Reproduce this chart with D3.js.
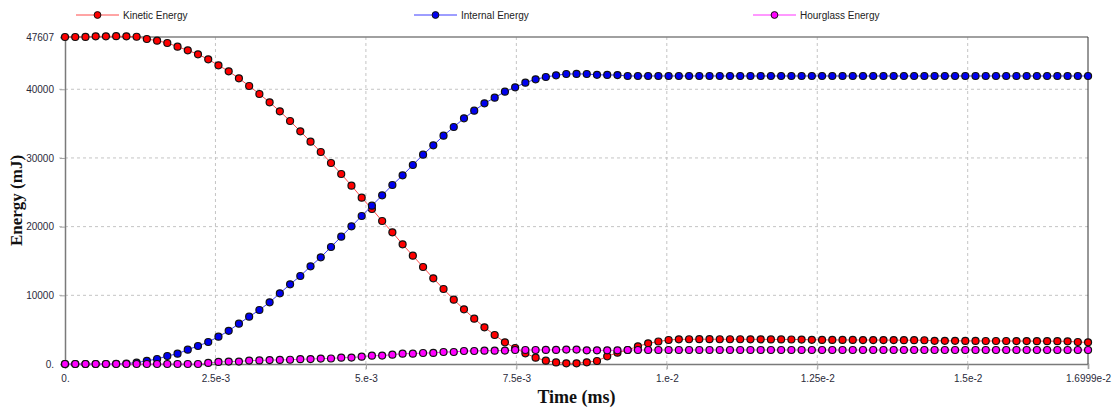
<!DOCTYPE html>
<html>
<head>
<meta charset="utf-8">
<script src="https://cdn.jsdelivr.net/npm/d3@7"></script>
<style>
  body { margin: 0; background: #fff; }
  svg { display: block; }
</style>
</head>
<body>
<svg id="chart"></svg>
<script>
// output every 1.7e-4 ms, 101 samples (0 .. 1.6999e-2)
var time = d3.range(101).map(function(i) { return i * 0.00017; });

var kinetic = [
  47607, 47607, 47620, 47700, 47710, 47720, 47700, 47640, 47316, 47073,
  46735, 46200, 45670, 45085, 44360, 43485, 42610, 41590, 40475, 39310,
  38095, 36790, 35378, 33875, 32370, 30865, 29264, 27662, 25963, 24216,
  22566, 20819, 19168, 17421, 15771, 14122, 12473, 10919, 9367, 7959,
  6599, 5338, 4222, 3155, 2329, 1553, 922, 485, 230, 100,
  100, 250, 440, 1120, 1650, 2040, 2570, 3010, 3275, 3495,
  3590, 3600, 3610, 3610, 3600, 3600, 3600, 3590, 3590, 3580,
  3580, 3570, 3560, 3520, 3510, 3500, 3500, 3500, 3490, 3490,
  3480, 3480, 3470, 3470, 3460, 3380, 3370, 3370, 3360, 3360,
  3350, 3350, 3350, 3340, 3340, 3330, 3330, 3320, 3300, 3200,
  3150
];

var internal = [
  0, 0, 0, 0, 0, 20, 60, 200, 460, 728,
  1165, 1500, 2090, 2620, 3203, 3980, 4830, 5872, 6891, 7862,
  8979, 10290, 11600, 12812, 14219, 15529, 17034, 18537, 20043, 21547,
  23052, 24556, 26061, 27468, 28972, 30477, 31836, 33244, 34505, 35767,
  36883, 37951, 38775, 39649, 40279, 40958, 41443, 41784, 42027, 42220,
  42230, 42220, 42100, 42080, 42070, 41930, 41930, 41930, 41930, 41930,
  41930, 41930, 41930, 41930, 41930, 41930, 41930, 41930, 41930, 41930,
  41930, 41930, 41930, 41930, 41930, 41930, 41930, 41930, 41930, 41930,
  41930, 41930, 41930, 41930, 41930, 41930, 41930, 41930, 41930, 41930,
  41930, 41930, 41930, 41930, 41930, 41930, 41930, 41930, 41930, 41930,
  41930
];

var hourglass = [
  0, 0, 0, 0, 0, 0, 0, 0, 0, 0,
  0, 0, 0, 0, 150, 300, 350, 360, 500, 520,
  570, 600, 620, 700, 720, 790, 800, 925, 930, 1068,
  1213, 1220, 1359, 1504, 1510, 1601, 1610, 1747, 1750, 1893,
  1895, 1941, 1945, 1950, 2038, 2040, 2040, 2045, 2050, 2100,
  2100, 1990, 1990, 1990, 1990, 2040, 2040, 2040, 2040, 2040,
  2040, 2040, 2040, 2040, 2040, 2040, 2040, 2040, 2040, 2040,
  2040, 2040, 2040, 2040, 2040, 2040, 2040, 2040, 2040, 2040,
  2040, 2040, 2040, 2040, 2040, 2040, 2040, 2040, 2040, 2040,
  2040, 2040, 2040, 2040, 2040, 2040, 2040, 2040, 2040, 2040,
  2040
];

var seriesNames = ['Kinetic Energy', 'Internal Energy', 'Hourglass Energy'];

var xTicks = [0, 0.0025, 0.005, 0.0075, 0.01, 0.0125, 0.015, 0.016999];
var xTickLabels = ['0.', '2.5e-3', '5.e-3', '7.5e-3', '1.e-2', '1.25e-2', '1.5e-2', '1.6999e-2'];
var yTicks = [0, 10000, 20000, 30000, 40000, 47607];
var yTickLabels = ['0.', '10000', '20000', '30000', '40000', '47607'];

var width = 1113,
    height = 412;
var margin = {top: 37, right: 25, bottom: 48, left: 65};

var svg = d3.select('#chart')
    .attr('width', width)
    .attr('height', height);

var x = d3.scaleLinear()
    .domain([0, 0.016999])
    .range([margin.left, width - margin.right]);

var y = d3.scaleLinear()
    .domain([0, 47607])
    .range([height - margin.bottom, margin.top]);

var styles = [
  {line: '#ff4a4a', fill: '#ff0000'},
  {line: '#3c3cff', fill: '#0000f0'},
  {line: '#ff33ff', fill: '#ff00ff'}
];

// grid
var grid = svg.append('g').attr('stroke', '#c4c4c4').attr('stroke-dasharray', '3,3');
grid.selectAll('.vg')
  .data(xTicks.slice(1, -1))
  .enter().append('line')
  .attr('x1', function(d) { return x(d); })
  .attr('x2', function(d) { return x(d); })
  .attr('y1', y(47607))
  .attr('y2', y(0) + 6);
grid.selectAll('.hg')
  .data(yTicks.slice(1, -1))
  .enter().append('line')
  .attr('x1', x(0) - 6)
  .attr('x2', x(0.016999))
  .attr('y1', function(d) { return y(d); })
  .attr('y2', function(d) { return y(d); });

// axes
var xAxis = d3.axisBottom(x)
    .tickValues(xTicks)
    .tickSize(5)
    .tickPadding(6)
    .tickFormat(function(d, i) { return xTickLabels[i]; });
var yAxis = d3.axisLeft(y)
    .tickValues(yTicks)
    .tickSize(5)
    .tickPadding(6)
    .tickFormat(function(d, i) { return yTickLabels[i]; });

var gx = svg.append('g')
    .attr('transform', 'translate(0,' + y(0) + ')')
    .call(xAxis);
var gy = svg.append('g')
    .attr('transform', 'translate(' + x(0) + ',0)')
    .call(yAxis);

[gx, gy].forEach(function(g) {
  g.select('.domain').attr('stroke', '#7a7a7a').attr('stroke-width', 1.5);
  g.selectAll('.tick line').attr('stroke', '#a0a0a0');
  g.selectAll('.tick text')
    .attr('fill', '#2a2a3a')
    .style('font-family', 'Liberation Sans, Arial, sans-serif')
    .style('font-size', '10px');
});

// frame top / right
svg.append('line')
  .attr('x1', x(0)).attr('x2', x(0.016999))
  .attr('y1', y(47607)).attr('y2', y(47607))
  .attr('stroke', '#808080').attr('stroke-width', 1.5);
svg.append('line')
  .attr('x1', x(0.016999)).attr('x2', x(0.016999))
  .attr('y1', y(47607)).attr('y2', y(0))
  .attr('stroke', '#303030').attr('stroke-width', 1);

// series
var data = [kinetic, internal, hourglass];
var line = d3.line()
  .x(function(d, i) { return x(time[i]); })
  .y(function(d) { return y(d); });

data.forEach(function(vals, s) {
  var g = svg.append('g');
  g.append('path')
    .datum(vals)
    .attr('d', line)
    .attr('fill', 'none')
    .attr('stroke', styles[s].line)
    .attr('stroke-width', 1);
  g.selectAll('circle')
    .data(vals)
    .enter().append('circle')
    .attr('cx', function(d, i) { return x(time[i]); })
    .attr('cy', function(d) { return y(d); })
    .attr('r', 3.5)
    .attr('fill', styles[s].fill)
    .attr('stroke', '#111')
    .attr('stroke-width', 1.2);
});

// legend
var legendX = [76, 414, 753];
var legend = svg.append('g');
seriesNames.forEach(function(name, s) {
  var lx = legendX[s];
  legend.append('line')
    .attr('x1', lx).attr('x2', lx + 43)
    .attr('y1', 15).attr('y2', 15)
    .attr('stroke', styles[s].line);
  legend.append('circle')
    .attr('cx', lx + 21.5).attr('cy', 15)
    .attr('r', 3.4)
    .attr('fill', styles[s].fill)
    .attr('stroke', '#111')
    .attr('stroke-width', 1);
  legend.append('text')
    .text(name)
    .attr('x', lx + 47)
    .attr('y', 18.5)
    .attr('fill', '#222')
    .style('font-family', 'Liberation Sans, Arial, sans-serif')
    .style('font-size', '10px');
});

// axis titles
svg.append('text')
  .text('Time (ms)')
  .attr('x', (x(0) + x(0.016999)) / 2)
  .attr('y', 403)
  .attr('fill', '#111')
  .style('text-anchor', 'middle')
  .style('font-family', 'Liberation Serif, Times New Roman, serif')
  .style('font-weight', 'bold')
  .style('font-size', '18px');

svg.append('text')
  .text('Energy (mJ)')
  .attr('transform', 'translate(22,' + ((y(0) + y(47607)) / 2) + ') rotate(-90)')
  .attr('fill', '#111')
  .style('text-anchor', 'middle')
  .style('font-family', 'Liberation Serif, Times New Roman, serif')
  .style('font-weight', 'bold')
  .style('font-size', '17px');
</script>
</body>
</html>
